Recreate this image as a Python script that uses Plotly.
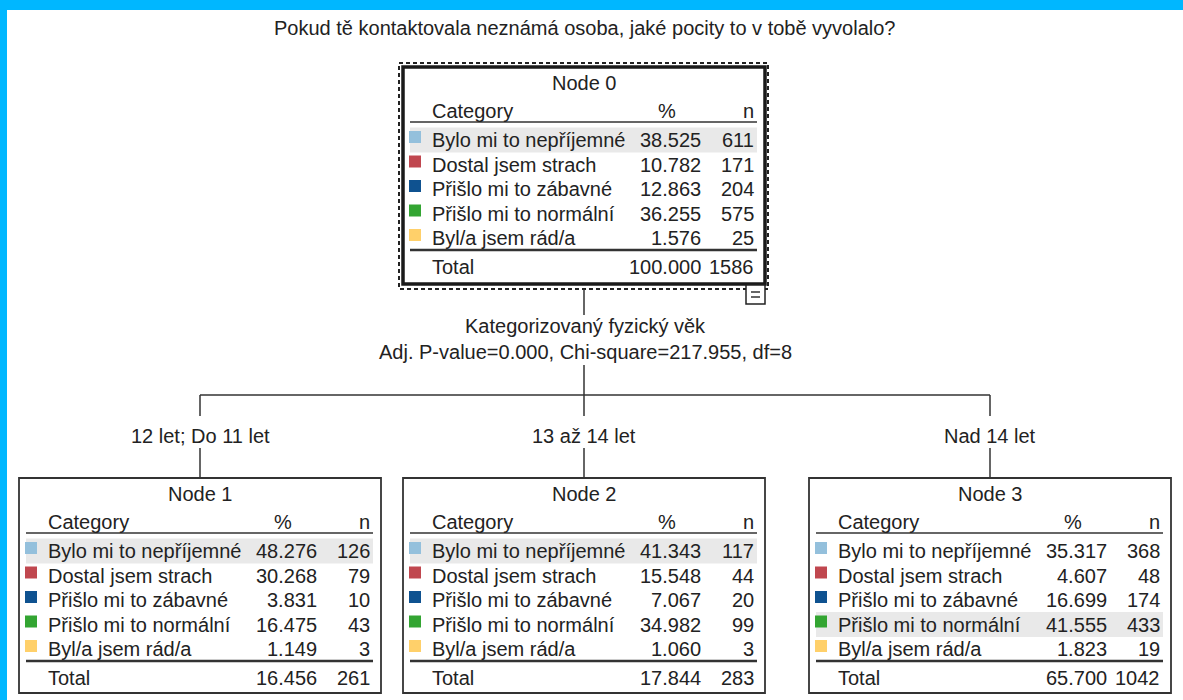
import plotly.graph_objects as go

# --- data ---
title = "Pokud tě kontaktovala neznámá osoba, jaké pocity to v tobě vyvolalo?"
split_var = "Kategorizovaný fyzický věk"
split_stats = "Adj. P-value=0.000, Chi-square=217.955, df=8"

categories = ["Bylo mi to nepříjemné", "Dostal jsem strach", "Přišlo mi to zábavné",
              "Přišlo mi to normální", "Byl/a jsem rád/a"]
cat_colors = ["#94c0dc", "#c0474f", "#0f5290", "#33a532", "#ffd06a"]

node_names = ["Node 0", "Node 1", "Node 2", "Node 3"]
node_pct = [
    [38.525, 10.782, 12.863, 36.255, 1.576],
    [48.276, 30.268, 3.831, 16.475, 1.149],
    [41.343, 15.548, 7.067, 34.982, 1.060],
    [35.317, 4.607, 16.699, 41.555, 1.823],
]
node_n = [
    [611, 171, 204, 575, 25],
    [126, 79, 10, 43, 3],
    [117, 44, 20, 99, 3],
    [368, 48, 174, 433, 19],
]
total_pct = [100.000, 16.456, 17.844, 65.700]
total_n = [1586, 261, 283, 1042]
split_labels = ["12 let; Do 11 let", "13 až 14 let", "Nad 14 let"]

# --- layout geometry (pixels) ---
W, H = 1183, 700
FONT = "Liberation Sans, Arial, sans-serif"
FS = 20
TXT = "#222222"
box_left = [403, 19, 403, 809]
box_top = [67, 478, 478, 478]
BOX_W = 362
BOX_H = [217, 215, 215, 215]

shapes = []
annotations = []


def line(x0, y0, x1, y1, width=1.5, color="#333333"):
    shapes.append(dict(type="line", x0=x0, y0=y0, x1=x1, y1=y1,
                       line=dict(color=color, width=width)))


def text(x, y, s, anchor="left", size=FS):
    annotations.append(dict(x=x, y=y, text=s, showarrow=False, xanchor=anchor,
                            yanchor="middle", font=dict(family=FONT, size=size, color=TXT)))


# cyan frame (top and left)
shapes.append(dict(type="rect", x0=0, y0=0, x1=W, y1=10, line_width=0, fillcolor="#00b7ff"))
shapes.append(dict(type="rect", x0=0, y0=0, x1=7, y1=H, line_width=0, fillcolor="#00b7ff"))

text(585, 28, title, "center")

for k, name in enumerate(node_names):
    L, T = box_left[k], box_top[k]
    R, B = L + BOX_W, T + BOX_H[k]
    pct, n = node_pct[k], node_n[k]
    hi = pct.index(max(pct))
    # highlighted (modal) row
    ry = T + 73 + 24.5 * hi
    shapes.append(dict(type="rect", x0=L + 7, x1=L + 354, y0=ry - 12.5, y1=ry + 12.5,
                       line_width=0, fillcolor="#e9e9e9", layer="below"))
    if k == 0:
        shapes.append(dict(type="rect", x0=L - 4, x1=R + 3, y0=T - 4, y1=T + 222,
                           line=dict(color="#222222", width=2, dash="4px,3px")))
        shapes.append(dict(type="rect", x0=L, x1=R, y0=T, y1=B,
                           line=dict(color="#1a1a1a", width=3.5)))
        # collapse marker
        shapes.append(dict(type="rect", x0=R - 19, x1=R, y0=T + 218, y1=T + 237,
                           fillcolor="white", line=dict(color="#222222", width=1.5)))
        line(R - 14, T + 225, R - 5, T + 225, 1.5)
        line(R - 14, T + 230, R - 5, T + 230, 1.5)
    else:
        shapes.append(dict(type="rect", x0=L, x1=R, y0=T, y1=B,
                           line=dict(color="#333333", width=1.8)))
    text(L + BOX_W / 2, T + 16, name, "center")
    text(L + 27, T + 44, "Category")
    text(L + 264, T + 44, "%", "center")
    text(L + 353, T + 44, "n", "right")
    line(L + 7, T + 55, L + 354, T + 55, 1.5)
    for i, cat in enumerate(categories):
        y = T + 73 + 24.5 * i
        shapes.append(dict(type="rect", x0=L + 6, x1=L + 18, y0=y - 9, y1=y + 3,
                           line_width=0, fillcolor=cat_colors[i]))
        text(L + 27, y, cat)
        text(L + 300, y, f"{pct[i]:.3f}", "right")
        text(L + 353, y, str(n[i]), "right")
    line(L + 7, T + 183, L + 354, T + 183, 2.5)
    text(L + 27, T + 200, "Total")
    text(L + 300, T + 200, f"{total_pct[k]:.3f}", "right")
    text(L + 353, T + 200, str(total_n[k]), "right")

# connectors
cx0 = 584
line(cx0, 289, cx0, 315)
text(585, 326, split_var, "center")
text(585, 352, split_stats, "center")
line(cx0, 365, cx0, 395)
child_x = [box_left[k] + BOX_W / 2 for k in (1, 2, 3)]
line(child_x[0], 395, child_x[2], 395)
for j, lab in enumerate(split_labels):
    line(child_x[j], 395, child_x[j], 416)
    text(child_x[j], 436, lab, "center")
    line(child_x[j], 448, child_x[j], 478)

fig = go.Figure()
fig.update_layout(
    width=W, height=H,
    margin=dict(l=0, r=0, t=0, b=0),
    paper_bgcolor="white", plot_bgcolor="white",
    xaxis=dict(range=[0, W], visible=False, fixedrange=True),
    yaxis=dict(range=[H, 0], visible=False, fixedrange=True),
    shapes=shapes, annotations=annotations,
    showlegend=False,
)
fig.write_html("out.html", config={"displayModeBar": False},
               post_script="document.body.style.margin='0';")
